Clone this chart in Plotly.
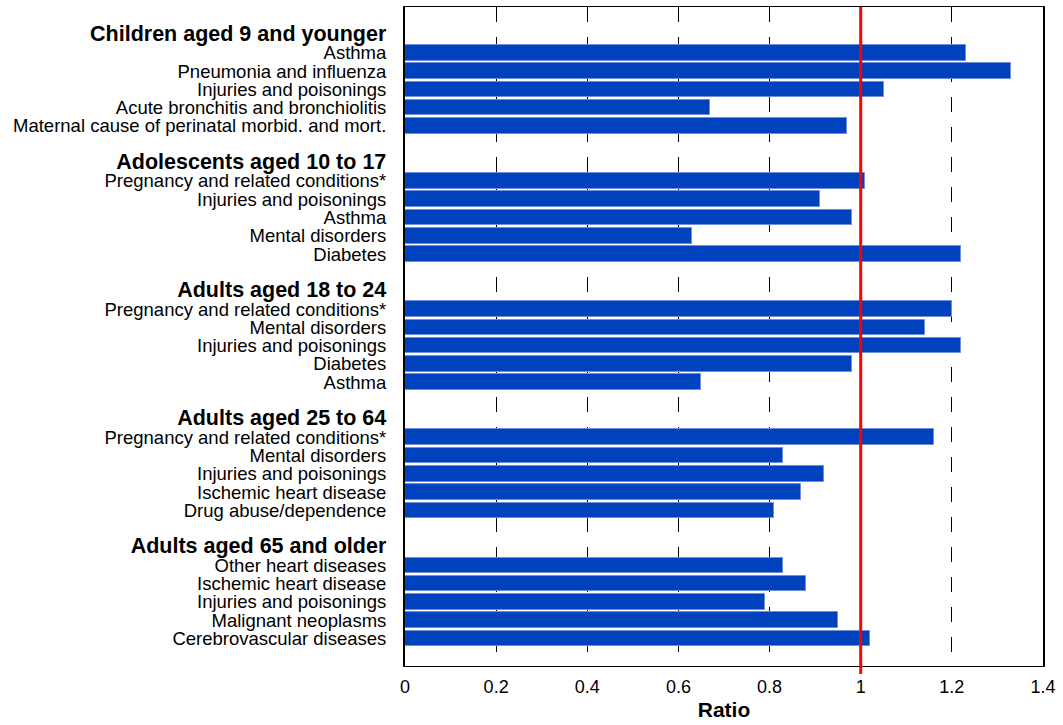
import plotly.graph_objects as go

groups = [
    "Children aged 9 and younger",
    "Adolescents aged 10 to 17",
    "Adults aged 18 to 24",
    "Adults aged 25 to 64",
    "Adults aged 65 and older",
]

children_items = ["Asthma", "Pneumonia and influenza", "Injuries and poisonings",
                  "Acute bronchitis and bronchiolitis", "Maternal cause of perinatal morbid. and mort."]
children_vals = [1.23, 1.33, 1.05, 0.67, 0.97]

adolescent_items = ["Pregnancy and related conditions*", "Injuries and poisonings", "Asthma",
                    "Mental disorders", "Diabetes"]
adolescent_vals = [1.01, 0.91, 0.98, 0.63, 1.22]

adult1824_items = ["Pregnancy and related conditions*", "Mental disorders", "Injuries and poisonings",
                   "Diabetes", "Asthma"]
adult1824_vals = [1.20, 1.14, 1.22, 0.98, 0.65]

adult2564_items = ["Pregnancy and related conditions*", "Mental disorders", "Injuries and poisonings",
                   "Ischemic heart disease", "Drug abuse/dependence"]
adult2564_vals = [1.16, 0.83, 0.92, 0.87, 0.81]

adult65_items = ["Other heart diseases", "Ischemic heart disease", "Injuries and poisonings",
                 "Malignant neoplasms", "Cerebrovascular diseases"]
adult65_vals = [0.83, 0.88, 0.79, 0.95, 1.02]

x_ticks = [0, 0.2, 0.4, 0.6, 0.8, 1, 1.2, 1.4]
reference_ratio = 1.0

group_items = [children_items, adolescent_items, adult1824_items, adult2564_items, adult65_items]
group_vals = [children_vals, adolescent_vals, adult1824_vals, adult2564_vals, adult65_vals]

# Build row layout: blank row, header row, then items for each group
bar_y, bar_x = [], []
tickvals, ticktext = [], []
row = 0
for g, items, vals in zip(groups, group_items, group_vals):
    row += 1  # blank row
    tickvals.append(row)
    ticktext.append(f"<b><span style='font-size:21.5px'>{g}</span></b>")
    row += 1
    for it, v in zip(items, vals):
        tickvals.append(row)
        ticktext.append(it)
        bar_y.append(row)
        bar_x.append(v)
        row += 1
n_rows = row + 1  # trailing blank row

fig = go.Figure()
fig.add_trace(go.Bar(
    x=bar_x, y=bar_y, orientation="h", width=0.85,
    marker=dict(color="#0041BE", line=dict(color="#6F8FDB", width=1)),
    hoverinfo="x",
))

fig.add_shape(type="line", xref="x", yref="paper", x0=reference_ratio, x1=reference_ratio,
              y0=-0.012, y1=1, line=dict(color="#FF0000", width=3), layer="above")

fig.update_layout(
    width=1063, height=725,
    margin=dict(l=405, r=20, t=7, b=59),
    paper_bgcolor="white", plot_bgcolor="white",
    font=dict(family="Liberation Sans, Arial, sans-serif", size=18.5, color="black"),
    showlegend=False,
    bargap=0,
)
fig.update_xaxes(
    range=[0, 1.4], tickvals=x_ticks, ticktext=[f"{t:g}" for t in x_ticks],
    showgrid=True, gridcolor="black", gridwidth=1, griddash="15px,15px",
    zeroline=False, showline=True, linecolor="black", linewidth=1, mirror=True,
    ticks="", tickfont=dict(size=18), ticklabelstandoff=4,
    title=dict(text="<b>Ratio</b>", font=dict(size=21), standoff=6),
)
fig.update_yaxes(
    range=[n_rows - 0.5, -0.5], tickvals=tickvals, ticktext=ticktext,
    showgrid=False, zeroline=False, showline=True, linecolor="black", linewidth=2, mirror=True,
    ticks="", ticklabelstandoff=13, tickfont=dict(size=18.5),
)

fig.write_html("out.html", config={"displayModeBar": False},
               post_script="document.body.style.margin='0px';")
